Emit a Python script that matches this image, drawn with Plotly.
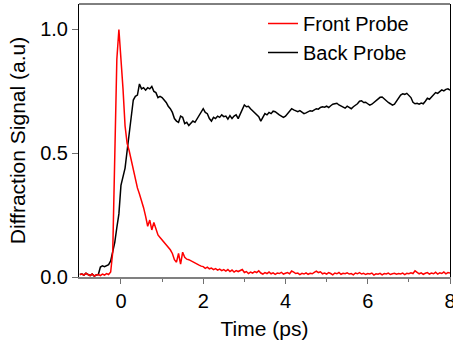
import numpy as np
import plotly.graph_objects as go

# time grid: -1.00 ps to 8.00 ps, step 0.05 ps
t_start = -1.0
t_step = 0.05

front_probe = [
    0.010, 0.012, 0.008, 0.015, 0.010, 0.006, 0.012, 0.004, 0.008, 0.010,   # -1.00 .. -0.55
    0.006, 0.012, 0.008, 0.014, 0.010, 0.020, 0.100, 0.550, 0.880, 1.000,   # -0.50 .. -0.05
    0.895, 0.760, 0.610, 0.540, 0.510, 0.470, 0.440, 0.395, 0.360, 0.335,   # 0.00 .. 0.45
    0.310, 0.280, 0.245, 0.205, 0.230, 0.190, 0.220, 0.195, 0.170, 0.160,   # 0.50 .. 0.95
    0.150, 0.140, 0.130, 0.120, 0.110, 0.095, 0.070, 0.060, 0.095, 0.052,   # 1.00 .. 1.45
    0.100, 0.080, 0.072, 0.070, 0.065, 0.060, 0.056, 0.050, 0.048, 0.044,   # 1.50 .. 1.95
    0.042, 0.035, 0.040, 0.033, 0.036, 0.030, 0.034, 0.028, 0.032, 0.026,   # 2.00 .. 2.45
    0.030, 0.024, 0.030, 0.022, 0.028, 0.020, 0.026, 0.022, 0.025, 0.030,   # 2.50 .. 2.95
    0.018, 0.022, 0.014, 0.020, 0.016, 0.022, 0.018, 0.025, 0.016, 0.012,   # 3.00 .. 3.45
    0.018, 0.014, 0.020, 0.013, 0.017, 0.011, 0.016, 0.014, 0.019, 0.012,   # 3.50 .. 3.95
    0.015, 0.018, 0.013, 0.024, 0.020, 0.014, 0.016, 0.010, 0.015, 0.012,   # 4.00 .. 4.45
    0.017, 0.011, 0.015, 0.013, 0.019, 0.024, 0.018, 0.021, 0.013, 0.016,   # 4.50 .. 4.95
    0.012, 0.018, 0.014, 0.009, 0.016, 0.013, 0.018, 0.011, 0.015, 0.013,   # 5.00 .. 5.45
    0.017, 0.012, 0.014, 0.009, 0.016, 0.013, 0.018, 0.012, 0.015, 0.010,   # 5.50 .. 5.95
    0.014, 0.012, 0.016, 0.008, 0.013, 0.011, 0.015, 0.009, 0.014, 0.012,   # 6.00 .. 6.45
    0.016, 0.010, 0.013, 0.015, 0.011, 0.014, 0.012, 0.016, 0.010, 0.015,   # 6.50 .. 6.95
    0.013, 0.017, 0.014, 0.025, 0.019, 0.013, 0.017, 0.011, 0.015, 0.018,   # 7.00 .. 7.45
    0.012, 0.016, 0.013, 0.019, 0.012, 0.017, 0.014, 0.020, 0.013, 0.018,   # 7.50 .. 7.95
    0.016,                                                                  # 8.00
]

back_probe = [
    0.010, 0.012, 0.008, 0.015, 0.010, 0.006, 0.012, 0.004, 0.008, 0.010,   # -1.00 .. -0.55
    0.040, 0.045, 0.042, 0.046, 0.050, 0.065, 0.100, 0.140, 0.200, 0.255,   # -0.50 .. -0.05
    0.370, 0.400, 0.440, 0.510, 0.580, 0.660, 0.715, 0.730, 0.735, 0.780,   # 0.00 .. 0.45
    0.760, 0.765, 0.755, 0.765, 0.760, 0.770, 0.750, 0.745, 0.725, 0.730,   # 0.50 .. 0.95
    0.725, 0.715, 0.705, 0.690, 0.680, 0.665, 0.640, 0.630, 0.625, 0.650,   # 1.00 .. 1.45
    0.645, 0.620, 0.625, 0.612, 0.620, 0.630, 0.625, 0.640, 0.655, 0.665,   # 1.50 .. 1.95
    0.680, 0.665, 0.660, 0.640, 0.630, 0.645, 0.640, 0.650, 0.645, 0.655,   # 2.00 .. 2.45
    0.648, 0.650, 0.638, 0.652, 0.640, 0.650, 0.655, 0.640, 0.660, 0.680,   # 2.50 .. 2.95
    0.695, 0.688, 0.690, 0.680, 0.672, 0.665, 0.660, 0.648, 0.630, 0.645,   # 3.00 .. 3.45
    0.660, 0.655, 0.665, 0.660, 0.670, 0.668, 0.660, 0.655, 0.650, 0.645,   # 3.50 .. 3.95
    0.650, 0.660, 0.672, 0.680, 0.675, 0.670, 0.668, 0.672, 0.665, 0.660,   # 4.00 .. 4.45
    0.663, 0.668, 0.672, 0.670, 0.676, 0.680, 0.678, 0.685, 0.688, 0.686,   # 4.50 .. 4.95
    0.690, 0.685, 0.692, 0.698, 0.700, 0.702, 0.695, 0.690, 0.686, 0.682,   # 5.00 .. 5.45
    0.690, 0.685, 0.680, 0.688, 0.694, 0.700, 0.710, 0.712, 0.705, 0.706,   # 5.50 .. 5.95
    0.700, 0.694, 0.698, 0.706, 0.712, 0.720, 0.726, 0.727, 0.720, 0.710,   # 6.00 .. 6.45
    0.705, 0.700, 0.694, 0.698, 0.710, 0.718, 0.735, 0.740, 0.738, 0.742,   # 6.50 .. 6.95
    0.735, 0.725, 0.706, 0.700, 0.702, 0.698, 0.703, 0.700, 0.710, 0.722,   # 7.00 .. 7.45
    0.718, 0.728, 0.735, 0.745, 0.742, 0.748, 0.756, 0.752, 0.758, 0.760,   # 7.50 .. 7.95
    0.755,                                                                  # 8.00
]

time_front = np.round(t_start + t_step * np.arange(len(front_probe)), 2)
time_back = np.round(t_start + t_step * np.arange(len(back_probe)), 2)

x_tickvals = [0, 2, 4, 6, 8]
x_minor_tickvals = [1, 3, 5, 7]
y_tickvals = [0.0, 0.5, 1.0]
y_ticktext = ["0.0", "0.5", "1.0"]

FONT = "Liberation Sans, Arial, sans-serif"

fig = go.Figure()
fig.add_trace(go.Scatter(x=time_back, y=back_probe, mode="lines", name="Back Probe",
                         line=dict(color="#000000", width=1.5)))
fig.add_trace(go.Scatter(x=time_front, y=front_probe, mode="lines", name="Front Probe",
                         line=dict(color="#ff0000", width=1.5)))

fig.update_layout(
    width=453, height=340,
    margin=dict(l=79, r=3, t=4, b=63, autoexpand=False),
    paper_bgcolor="white", plot_bgcolor="white",
    font=dict(family=FONT, size=20, color="#000000"),
    showlegend=True,
    legend=dict(x=0.496, y=1.0, xanchor="left", yanchor="top",
                traceorder="reversed", bgcolor="rgba(0,0,0,0)",
                font=dict(family=FONT, size=20), tracegroupgap=0),
    xaxis=dict(range=[-1.02, 8.0], tickvals=x_tickvals, ticks="outside", ticklen=5,
               tickwidth=1, tickcolor="#707070", showline=True, linecolor="#808080",
               linewidth=2, showgrid=False, zeroline=False, mirror=False,
               automargin=False, ticklabeloverflow="allow", tickfont=dict(size=20),
               minor=dict(tickvals=x_minor_tickvals, ticks="outside", ticklen=3,
                          tickcolor="#707070", showgrid=False),
               title=dict(text="Time (ps)", font=dict(size=21), standoff=10)),
    yaxis=dict(range=[0, 1.103], tickvals=y_tickvals, ticktext=y_ticktext,
               ticks="outside", ticklen=6, tickwidth=1, tickcolor="#707070",
               showline=True, linecolor="#000000", linewidth=1, mirror=True,
               automargin=False,
               showgrid=False, zeroline=False, tickfont=dict(size=20),
               title=dict(text="Diffraction Signal (a.u)", font=dict(size=21), standoff=8)),
)

# top frame line
fig.add_shape(type="line", xref="paper", yref="paper", x0=0, x1=1, y0=1, y1=1,
              line=dict(color="#000000", width=1))

fig.write_html("out.html", config={"displayModeBar": False},
               post_script="document.body.style.margin='0';document.body.style.overflow='hidden';")
